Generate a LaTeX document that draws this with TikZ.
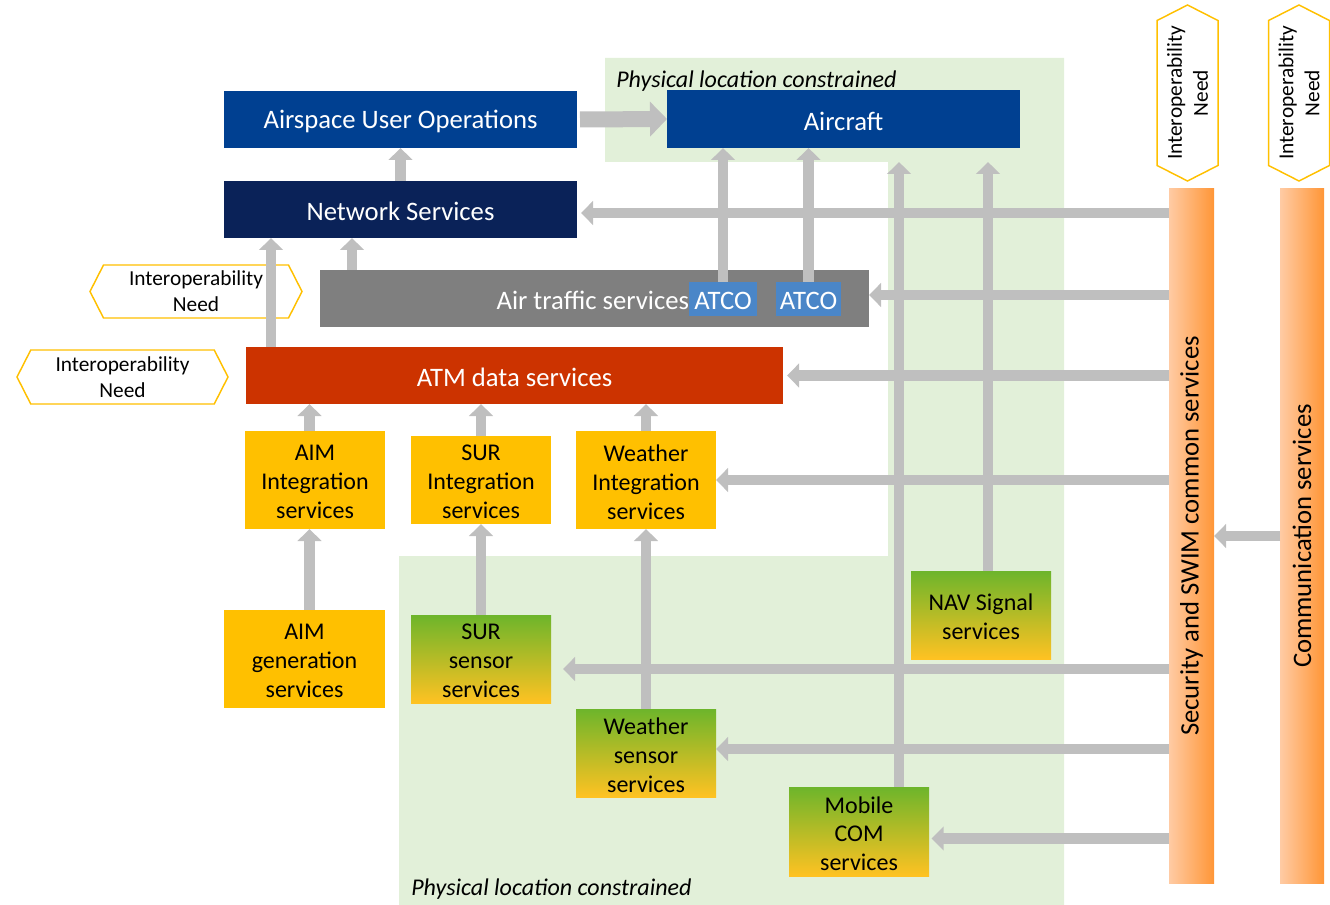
\documentclass[tikz,border=0pt]{standalone}
\usepackage{fontspec}
\setmainfont{Carlito}
\usetikzlibrary{arrows.meta,shapes.symbols,calc}
\definecolor{auoblue}{RGB}{0,64,145}
\definecolor{nsblue}{RGB}{10,34,88}
\definecolor{atsgray}{RGB}{127,127,127}
\definecolor{atcoblue}{RGB}{74,134,200}
\definecolor{atmred}{RGB}{204,51,0}
\definecolor{svcyellow}{RGB}{255,192,0}
\definecolor{arrgray}{RGB}{191,191,191}
\definecolor{physgreen}{RGB}{226,240,217}
\definecolor{sgreen}{RGB}{109,181,43}
\definecolor{syellow}{RGB}{255,194,34}
\definecolor{olight}{RGB}{255,203,164}
\definecolor{odark}{RGB}{255,150,55}
\definecolor{hexline}{RGB}{255,192,0}
% #1 name, #2-#5 corners (px), #6 fill style, #7 text style, #8 text
\newcommand\pbox[8]{%
  \node[boxbase, #6, minimum width={(#4-#2)*0.75pt}, minimum height={(#5-#3)*0.75pt}] (#1) at ({(#2+#4)/2},{(#3+#5)/2}) {};
  \node[boxbase, #7] (#1-t) at ($(#1.center)+(0,2.2)$) {#8};}
\begin{document}
\begin{tikzpicture}[x=0.75pt,y=-0.75pt,
  boxbase/.style={inner sep=0pt, outer sep=0pt, align=center, draw=none},
  bigtext/.style={font=\fontsize{20}{24}\selectfont, text=white},
  smalltext/.style={font=\fontsize{18}{21.7}\selectfont, text=black},
  yellowfill/.style={fill=svcyellow},
  gradfill/.style={top color=sgreen, bottom color=syellow},
  barbox/.style={boxbase, font=\fontsize{20}{24}\selectfont, text=black, left color=olight, right color=odark, rotate=90},
  hexbox/.style={signal, signal to=east and west, signal pointer angle=126, draw=hexline, line width=1.1pt, fill=white, inner sep=0pt, outer sep=0pt, align=center, font=\fontsize{16}{19.5}\selectfont},
  arr/.style={draw=arrgray, line width=7.9pt, -{Triangle[width=17.5pt,length=9pt]}},
  bigarr/.style={draw=arrgray, line width=12pt, -{Triangle[width=25.5pt,length=12.75pt]}},
  physlabel/.style={font=\fontsize{18}{21}\selectfont\itshape, anchor=west, inner sep=0pt}
]
\useasboundingbox (0,0) rectangle (1330,905);
% physical location constrained regions
\fill[physgreen] (605,58) -- (1064,58) -- (1064,905) -- (399,905) -- (399,556) -- (888,556) -- (888,162) -- (605,162) -- cycle;
\coordinate (phys) at (605,162);
\node[physlabel] (pl1) at (616,81) {Physical location constrained};
\node[physlabel] (pl2) at (411,889) {Physical location constrained};

% hexagons
\node[hexbox, minimum width={212*0.75pt}, minimum height={53*0.75pt}] (hex1) at (196,291.5) {Interoperability\\Need};
\node[hexbox, minimum width={211*0.75pt}, minimum height={54*0.75pt}] (hex2) at (122.5,377) {Interoperability\\Need};
\node[hexbox, rotate=90, minimum width={176*0.75pt}, minimum height={61*0.75pt}] (hex3) at (1187.5,93) {Interoperability\\Need};
\node[hexbox, rotate=90, minimum width={176*0.75pt}, minimum height={61*0.75pt}] (hex4) at (1299,93) {Interoperability\\Need};

% helper coordinates (positions of the connectors)
\path (224,181) rectangle (577,238);

% boxes
\pbox{auo}{224}{91}{577}{148}{fill=auoblue}{bigtext}{Airspace User Operations}
\pbox{ac}{667}{90}{1020}{148}{fill=auoblue}{bigtext}{Aircraft}
\pbox{ns}{224}{181}{577}{238}{fill=nsblue}{bigtext}{Network Services}
\node[boxbase, fill=atsgray, minimum width={549*0.75pt}, minimum height={57*0.75pt}] (ats) at (594.5,298.5) {};
\node[boxbase, bigtext, anchor=east] (atstext) at (689,300.5) {Air traffic services};
\pbox{atco1}{689}{282}{757}{316}{fill=atcoblue}{bigtext}{ATCO}
\pbox{atco2}{776}{282}{841}{316}{fill=atcoblue}{bigtext}{ATCO}
\pbox{atm}{246}{347}{783}{404}{fill=atmred}{bigtext}{ATM data services}
\pbox{aimi}{245}{431}{385}{529}{yellowfill}{smalltext}{AIM\\Integration\\services}
\pbox{suri}{411}{436}{551}{524}{yellowfill}{smalltext}{SUR\\Integration\\services}
\pbox{wi}{576}{431}{716}{529}{yellowfill}{smalltext}{Weather\\Integration\\services}
\pbox{aimg}{224}{610}{385}{708}{yellowfill}{smalltext}{AIM\\generation\\services}
\pbox{ss}{411}{615}{551}{703}{gradfill}{smalltext}{SUR\\sensor\\services}
\pbox{ws}{576}{709}{716}{797}{gradfill}{smalltext}{Weather\\sensor\\services}
\pbox{nav}{911}{571}{1051}{659}{gradfill}{smalltext}{NAV Signal\\services}
\pbox{mob}{789}{787}{929}{876}{gradfill}{smalltext}{Mobile\\COM\\services}
\node[barbox, minimum width={694*0.75pt}, minimum height={45*0.75pt}] (swim) at (1191.5,536) {Security and SWIM common services};
\node[barbox, minimum width={694*0.75pt}, minimum height={44*0.75pt}] (comm) at (1302,536) {Communication services};

% helper coordinates
\coordinate (c1) at ($(atm.north west)+(25,0)$);
\coordinate (c2) at ($(ats.north west)+(32,0)$);
\coordinate (c3) at ($(mob.north)+(40,0)$);
\coordinate (c4) at ($(nav.north)+(7,0)$);
\coordinate (c5) at ($(ss.east)+(0,10)$);
\coordinate (c6) at ($(mob.east)+(0,7)$);
\coordinate (c7) at ($(aimg.north)+(5,0)$);
\coordinate (c8) at ($(ws.east)+(0,-4)$);
\coordinate (c9) at ($(ns.east)+(0,3.5)$);
\coordinate (c10) at ($(ats.east)+(0,-3.5)$);

% arrows
\draw[bigarr] (auo.east) ++(3,0) -- (ac.west);
\draw[arr] (ns.north) -- (auo.south);
\draw[arr] (c2) -- (c2 |- ns.south);
\draw[arr] (c1) -- (c1 |- ns.south);
\draw[arr] (atco1.north) -- (atco1.north |- ac.south);
\draw[arr] (atco2.north) -- (atco2.north |- ac.south);
\draw[arr] (c3) -- (c3 |- phys);
\draw[arr] (c4) -- (c4 |- phys);
\draw[arr, shorten >=3pt] (swim.north |- c9) -- (c9);
\draw[arr] (swim.north |- c10) -- (c10);
\draw[arr, shorten >=3pt] (swim.north |- atm.east) -- (atm.east);
\draw[arr] (swim.north |- wi.east) -- (wi.east);
\draw[arr, shorten >=9pt] (swim.north |- c5) -- (c5);
\draw[arr] (swim.north |- c8) -- (c8);
\draw[arr, shorten >=2pt] (swim.north |- c6) -- (c6);
\draw[arr] (comm.north) -- (swim.south);
\draw[arr] (c7) -- (c7 |- aimi.south);
\draw[arr] (c7 |- aimi.north) -- (c7 |- atm.south);
\draw[arr] (suri.north) -- (suri.north |- atm.south);
\draw[arr] (wi.north) -- (wi.north |- atm.south);
\draw[arr] (ss.north) -- (suri.south);
\draw[arr] (ws.north) -- (wi.south);
\end{tikzpicture}
\end{document}
